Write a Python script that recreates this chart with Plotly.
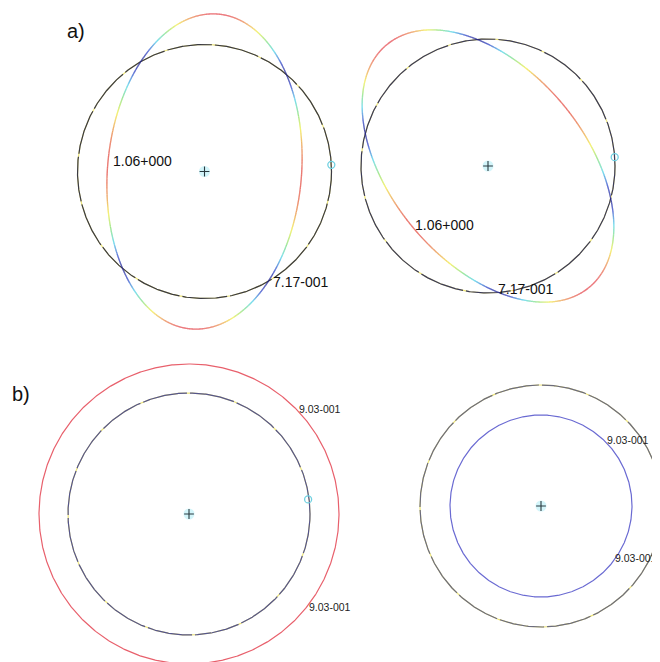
import numpy as np
import plotly.graph_objects as go
from plotly.colors import sample_colorscale

# ---------------- data (panel-local units, y up, centre at 0,0) ----------------
panel_names = ["a_left", "a_right", "b_left", "b_right"]

# a) reference circle and deformed (coloured) ellipse
a_circle_radius = [127, 127]
a_ellipse_major = [158, 158]
a_ellipse_minor = [97, 97]
a_ellipse_angle_deg = [85, 130]
a_marker_radius = [127, 127]
a_marker_angle_deg = [3, 4]

a_label_text = ["1.06+000", "7.17-001"]
a_label_x = [[-94, 66], [-75, 8]]
a_label_y = [[11, -110], [-59, -123]]

# b) concentric circles
b_outer_radius = [150, 121]
b_inner_radius = [121, 91]
b_marker_radius = [120, 117.5]
b_marker_angle_deg = [7, 6]
b_label_text = ["9.03-001", "9.03-001"]
b_label_x = [[108, 118], [64, 72]]
b_label_y = [[105, -93], [66, -52]]

panel_tags = ["a)", "b)"]

# ---------------- layout frames (page pixels) ----------------
PAGE_W, PAGE_H = 660, 662
OFF = 8  # default page body margin
W, H = PAGE_W - OFF, PAGE_H - OFF
frames = [
    dict(x0=8, x1=345, y0=8, y1=340, cx=204.5, cy=171.5),
    dict(x0=345, x1=660, y0=8, y1=340, cx=488, cy=166),
    dict(x0=8, x1=370, y0=340, y1=662, cx=189, cy=514),
    dict(x0=370, x1=660, y0=340, y1=662, cx=541, cy=506),
]

contour_scale = [
    [0.0, "#24248a"], [0.18, "#3346c8"], [0.38, "#52d4ea"],
    [0.55, "#84e07e"], [0.72, "#f2ee4e"], [1.0, "#e3404e"],
]

fig = go.Figure()


def ax(i):
    return ("x" if i == 0 else f"x{i+1}"), ("y" if i == 0 else f"y{i+1}")


def circle_xy(r, n=721):
    t = np.linspace(0, 2 * np.pi, n)
    return r * np.cos(t), r * np.sin(t)


def dashed_circle(i, r, base, gap_color="#ece47a", width=1.2):
    xr, yr = ax(i)
    x, y = circle_xy(r)
    fig.add_trace(go.Scatter(x=x, y=y, mode="lines", xaxis=xr, yaxis=yr,
                             line=dict(color=gap_color, width=width),
                             hoverinfo="skip", showlegend=False))
    fig.add_trace(go.Scatter(x=x, y=y, mode="lines", xaxis=xr, yaxis=yr,
                             line=dict(color=base, width=width, dash="45px,3px"),
                             hoverinfo="skip", showlegend=False))


def solid_circle(i, r, color, width=1.2):
    xr, yr = ax(i)
    x, y = circle_xy(r)
    fig.add_trace(go.Scatter(x=x, y=y, mode="lines", xaxis=xr, yaxis=yr,
                             line=dict(color=color, width=width),
                             hoverinfo="skip", showlegend=False))


def coloured_ellipse(i, a, b, ang_deg, R, nbins=40, n=1441):
    xr, yr = ax(i)
    t = np.linspace(0, 2 * np.pi, n)
    ph = np.deg2rad(ang_deg)
    ex, ey = a * np.cos(t), b * np.sin(t)
    x = ex * np.cos(ph) - ey * np.sin(ph)
    y = ex * np.sin(ph) + ey * np.cos(ph)
    r = np.hypot(x, y)
    dev = np.abs(r - R)
    f = dev / dev.max()
    fm = 0.5 * (f[:-1] + f[1:])
    bins = np.clip((fm * nbins).astype(int), 0, nbins - 1)
    cols = sample_colorscale(contour_scale, [(k + 0.5) / nbins for k in range(nbins)])
    for k in range(nbins):
        idx = np.where(bins == k)[0]
        if len(idx) == 0:
            continue
        xs, ys = [], []
        for j in idx:
            xs += [x[j], x[j + 1], None]
            ys += [y[j], y[j + 1], None]
        fig.add_trace(go.Scatter(x=xs, y=ys, mode="lines", xaxis=xr, yaxis=yr,
                                 line=dict(color=cols[k], width=1.3),
                                 hoverinfo="skip", showlegend=False))


def centre_and_edge(i, r_edge, ang_deg):
    xr, yr = ax(i)
    fig.add_trace(go.Scatter(x=[0], y=[0], mode="markers", xaxis=xr, yaxis=yr,
                             marker=dict(symbol="circle", size=11, color="rgba(130,225,240,0.35)"),
                             hoverinfo="skip", showlegend=False))
    fig.add_trace(go.Scatter(x=[0], y=[0], mode="markers", xaxis=xr, yaxis=yr,
                             marker=dict(symbol="cross-thin", size=7, color="#2a3a40",
                                         line=dict(color="#2a3a40", width=1.1)),
                             hoverinfo="skip", showlegend=False))
    th = np.deg2rad(ang_deg)
    fig.add_trace(go.Scatter(x=[r_edge * np.cos(th)], y=[r_edge * np.sin(th)], mode="markers",
                             xaxis=xr, yaxis=yr, cliponaxis=False,
                             marker=dict(symbol="circle-open", size=7, color="#6fd0e0",
                                         line=dict(color="#6fd0e0", width=1.3)),
                             hoverinfo="skip", showlegend=False))


# ---- panels a)
circle_colors_a = ["#3a3a44", "#3a3a5a"]
for i in range(2):
    dashed_circle(i, a_circle_radius[i], circle_colors_a[i])
    coloured_ellipse(i, a_ellipse_major[i], a_ellipse_minor[i], a_ellipse_angle_deg[i],
                     a_circle_radius[i])
    centre_and_edge(i, a_marker_radius[i], a_marker_angle_deg[i])

# ---- panels b)
solid_circle(2, b_outer_radius[0], "#e8606c")
dashed_circle(2, b_inner_radius[0], "#55558c")
centre_and_edge(2, b_marker_radius[0], b_marker_angle_deg[0])

dashed_circle(3, b_outer_radius[1], "#6c6c7e")
solid_circle(3, b_inner_radius[1], "#6a6ad2")
centre_and_edge(3, b_marker_radius[1], b_marker_angle_deg[1])

# ---- contour labels
font_fam = "Arial, Liberation Sans, sans-serif"
for i in range(2):
    xr, yr = ax(i)
    for k in range(2):
        fig.add_annotation(x=a_label_x[i][k], y=a_label_y[i][k], xref=xr, yref=yr,
                           text=a_label_text[k], showarrow=False, xanchor="left",
                           yanchor="middle", font=dict(family=font_fam, size=14, color="#111"))
for j in range(2):
    i = j + 2
    xr, yr = ax(i)
    for k in range(2):
        fig.add_annotation(x=b_label_x[j][k], y=b_label_y[j][k], xref=xr, yref=yr,
                           text=b_label_text[j], showarrow=False, xanchor="left",
                           yanchor="middle", font=dict(family=font_fam, size=10.5, color="#222"))

# ---- panel tags (page pixel positions converted to paper coords)
tag_pos = [(65, 18), (10, 381)]
for t, (px, py) in zip(panel_tags, tag_pos):
    fig.add_annotation(x=(px - OFF) / W, y=1 - (py - OFF) / H, xref="paper", yref="paper",
                       text=t, showarrow=False, xanchor="left", yanchor="top",
                       font=dict(family=font_fam, size=20, color="#111"))

# ---- axes
lay = dict(width=W, height=H, autosize=False, margin=dict(l=0, r=0, t=0, b=0),
           paper_bgcolor="white", plot_bgcolor="white", showlegend=False)
for i, fr in enumerate(frames):
    xn = "xaxis" if i == 0 else f"xaxis{i+1}"
    yn = "yaxis" if i == 0 else f"yaxis{i+1}"
    xr, yr = ax(i)
    lay[xn] = dict(domain=[(fr["x0"] - OFF) / W, (fr["x1"] - OFF) / W],
                   range=[fr["x0"] - fr["cx"], fr["x1"] - fr["cx"]],
                   visible=False, anchor=yr, fixedrange=True)
    lay[yn] = dict(domain=[1 - (fr["y1"] - OFF) / H, 1 - (fr["y0"] - OFF) / H],
                   range=[fr["cy"] - fr["y1"], fr["cy"] - fr["y0"]],
                   visible=False, anchor=xr, fixedrange=True)
fig.update_layout(**lay)

fig.write_html("out.html")
